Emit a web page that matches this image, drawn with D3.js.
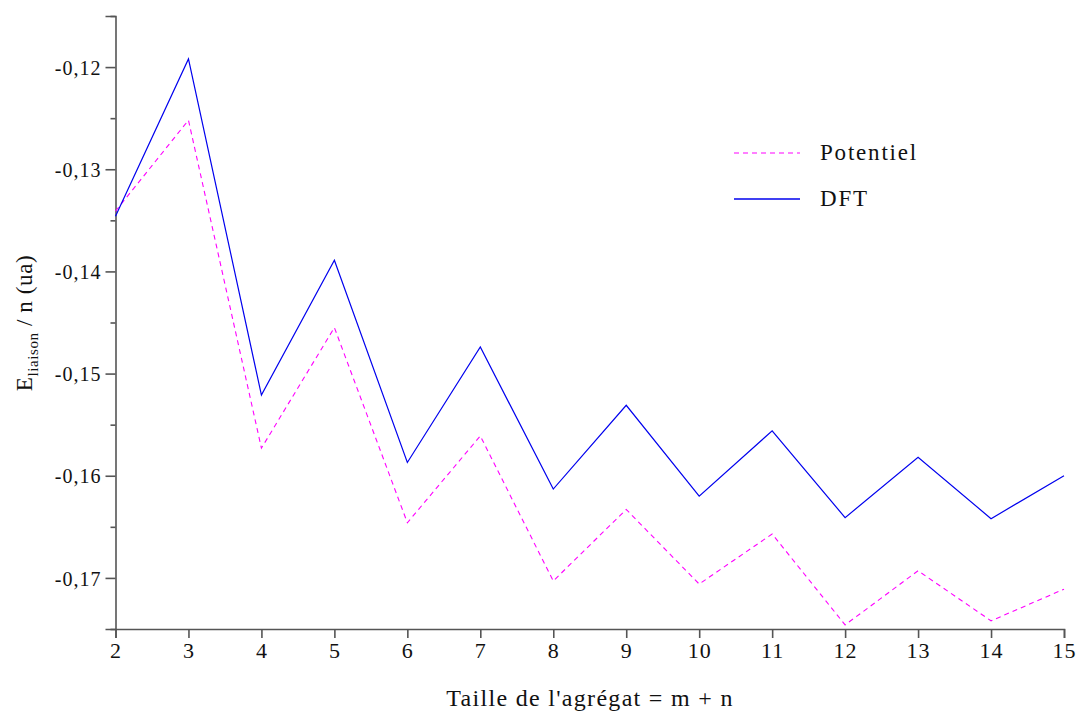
<!DOCTYPE html>
<html>
<head>
<meta charset="utf-8">
<script src="https://cdn.jsdelivr.net/npm/d3@7"></script>
<style>
  body { margin: 0; background: #fff; }
</style>
</head>
<body>
<div id="chart"></div>
<script>
// cluster size m + n
const sizes = [2, 3, 4, 5, 6, 7, 8, 9, 10, 11, 12, 13, 14, 15];
// binding energy per atom (ua)
const dftValues = [-0.1346, -0.1192, -0.1521, -0.1389, -0.1587, -0.1474, -0.1613, -0.1531, -0.1620, -0.1556, -0.1641, -0.1582, -0.1642, -0.1600];
const potentielValues = [-0.1341, -0.1252, -0.1573, -0.1455, -0.1646, -0.1561, -0.1703, -0.1633, -0.1706, -0.1657, -0.1746, -0.1693, -0.1742, -0.1711];
const yMajorTicks = [-0.17, -0.16, -0.15, -0.14, -0.13, -0.12];
const yMinorTicks = [-0.175, -0.165, -0.155, -0.145, -0.135, -0.125, -0.115];
const seriesNames = ['Potentiel', 'DFT'];

const width = 1076, height = 711;
const margin = {top: 16, right: 12, bottom: 82, left: 115.5};
const serif = '"Liberation Serif", "Times New Roman", Times, serif';

const svg = d3.select('#chart').append('svg')
    .attr('width', width)
    .attr('height', height)
    .attr('font-family', serif);

const x = d3.scaleLinear()
    .domain([2, 15])
    .range([margin.left, width - margin.right]);

const y = d3.scaleLinear()
    .domain([-0.175, -0.115])
    .range([height - margin.bottom, margin.top]);

const fmt = d => d3.format('.2f')(d).replace('.', ',').replace('−', '-');
const axisColor = '#555';

// y axis: major ticks with labels, minor ticks without
const yAxis = svg.append('g')
    .attr('transform', `translate(${margin.left},0)`)
    .call(d3.axisLeft(y).tickValues(yMajorTicks).tickFormat(fmt).tickSize(10).tickPadding(4));

svg.append('g')
    .attr('transform', `translate(${margin.left},0)`)
    .call(d3.axisLeft(y).tickValues(yMinorTicks).tickFormat('').tickSize(5))
    .call(g => g.select('.domain').remove());

// x axis
const xAxis = svg.append('g')
    .attr('transform', `translate(0,${height - margin.bottom})`)
    .call(d3.axisBottom(x).tickValues(sizes).tickFormat(d3.format('d')).tickSize(9).tickPadding(4));

svg.selectAll('g').attr('font-family', serif);

svg.selectAll('.tick line, .domain')
    .attr('stroke', axisColor)
    .attr('stroke-width', 1.6);

yAxis.selectAll('text')
    .attr('font-size', 20)
    .attr('letter-spacing', 1)
    .attr('fill', '#111')
    .attr('dy', '0.36em');

xAxis.selectAll('text')
    .attr('font-size', 22)
    .attr('letter-spacing', 1)
    .attr('fill', '#111')
    .attr('dy', '0.72em');

// series lines
const line = d3.line()
    .x((d, i) => x(sizes[i]))
    .y(d => y(d));

svg.append('path')
    .datum(potentielValues)
    .attr('fill', 'none')
    .attr('stroke', '#ff00ff')
    .attr('stroke-width', 1.1)
    .attr('stroke-dasharray', '5,4')
    .attr('d', line);

svg.append('path')
    .datum(dftValues)
    .attr('fill', 'none')
    .attr('stroke', '#0000ee')
    .attr('stroke-width', 1.2)
    .attr('d', line);

// legend
const legend = svg.append('g').attr('transform', 'translate(734,153)');
const legendStyles = [
  {color: '#ff00ff', dash: '5,4', w: 1.1},
  {color: '#0000ee', dash: null, w: 1.4}
];
seriesNames.forEach((name, i) => {
  const row = legend.append('g').attr('transform', `translate(0,${i * 46})`);
  row.append('line')
      .attr('x1', 0).attr('x2', 66)
      .attr('stroke', legendStyles[i].color)
      .attr('stroke-width', legendStyles[i].w)
      .attr('stroke-dasharray', legendStyles[i].dash);
  row.append('text')
      .attr('x', 86)
      .attr('y', 7)
      .attr('font-size', 23)
      .attr('letter-spacing', 1.8)
      .attr('fill', '#111')
      .text(name);
});

// axis titles
svg.append('text')
    .attr('x', 590)
    .attr('y', 706)
    .attr('text-anchor', 'middle')
    .attr('font-size', 24)
    .attr('letter-spacing', 1.3)
    .attr('fill', '#111')
    .text("Taille de l'agrégat = m + n");

const yTitle = svg.append('text')
    .attr('transform', 'translate(32,323) rotate(-90)')
    .attr('text-anchor', 'middle')
    .attr('font-size', 23)
    .attr('letter-spacing', 0.6)
    .attr('fill', '#111');
yTitle.append('tspan').text('E');
yTitle.append('tspan').attr('font-size', 15).attr('dy', 6).text('liaison');
yTitle.append('tspan').attr('dy', -6).text(' / n (ua)');
</script>
</body>
</html>
